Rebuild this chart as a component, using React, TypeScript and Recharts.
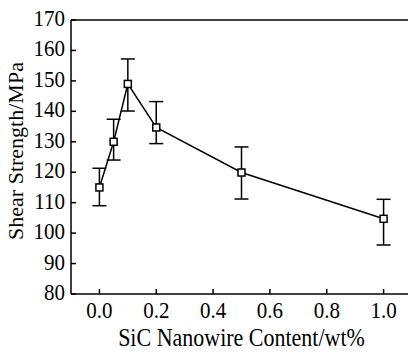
import React from 'react';
import { LineChart, Line, XAxis, YAxis, ErrorBar, ReferenceLine, Label } from 'recharts';

const contents = [0, 0.05, 0.1, 0.2, 0.5, 1.0];
const strengths = [115, 130, 149, 134.7, 119.9, 104.7];
const upperEnds = [121.3, 137.4, 157.2, 143.2, 128.3, 111.1];
const lowerEnds = [109, 124, 140.1, 129.4, 111.2, 96.1];
const xTicks = [0, 0.2, 0.4, 0.6, 0.8, 1.0];
const yTicks = [80, 90, 100, 110, 120, 130, 140, 150, 160, 170];

const data = contents.map((c, i) => ({
  x: c,
  y: strengths[i],
  err: [strengths[i] - lowerEnds[i], upperEnds[i] - strengths[i]],
}));

const FONT = '"Liberation Serif", "Times New Roman", serif';
const tickStyle = { fontFamily: FONT, fontSize: 21, fill: '#000' };
const labelStyle = { fontFamily: FONT, fontSize: 22, fill: '#000' };

// the source picture is a little stretched vertically
const STRETCH = 1.12;

const SquareDot = (props: any) => {
  const { cx, cy } = props;
  if (cx == null || cy == null) return null;
  return <rect x={cx - 3.5} y={cy - 3.5} width={7} height={7} fill="#fff" stroke="#000" strokeWidth={1.5} />;
};

const XTick = (props: any) => {
  const { x, y, payload } = props;
  return (
    <g>
      <line x1={x} x2={x} y1={y} y2={y - 5} stroke="#000" strokeWidth={1.5} />
      <g transform={`translate(${x} ${y + 24}) scale(1 ${STRETCH})`}>
        <text x={0} y={0} textAnchor="middle" style={tickStyle}>
          {Number(payload.value).toFixed(1)}
        </text>
      </g>
    </g>
  );
};

const YTick = (props: any) => {
  const { x, y, payload } = props;
  return (
    <g>
      <line x1={x} x2={x + 5} y1={y} y2={y} stroke="#000" strokeWidth={1.5} />
      <g transform={`translate(${x - 6} ${y + 6}) scale(1 ${STRETCH})`}>
        <text x={0} y={0} textAnchor="end" style={tickStyle}>
          {payload.value}
        </text>
      </g>
    </g>
  );
};

const YLabel = () => {
  const cy = 151;
  const cx = 15;
  return (
    <text
      x={cx}
      y={cy}
      transform={`rotate(-90 ${cx} ${cy})`}
      textAnchor="middle"
      dominantBaseline="central"
      style={labelStyle}
    >
      Shear Strength/MPa
    </text>
  );
};

const XLabel = () => (
  <g transform={`translate(241.5 346) scale(1 ${STRETCH})`}>
    <text x={0} y={0} textAnchor="middle" style={labelStyle}>
      SiC Nanowire Content/wt%
    </text>
  </g>
);

export default function App() {
  return (
    <div style={{ position: 'fixed', left: 0, top: 0, width: 408, height: 352, overflow: 'hidden', background: '#fff' }}>
      <LineChart width={420} height={352} data={data} margin={{ top: 20, right: 8, bottom: 0, left: 0 }}>
        <XAxis
          dataKey="x"
          type="number"
          domain={[-0.1, 1.1]}
          ticks={xTicks}
          tick={XTick}
          tickLine={false}
          tickSize={0}
          tickMargin={0}
          height={58}
          axisLine={{ stroke: '#000', strokeWidth: 1.5 }}
          allowDataOverflow
        >
          <Label content={XLabel} />
        </XAxis>
        <YAxis
          type="number"
          domain={[80, 170]}
          ticks={yTicks}
          tick={YTick}
          tickLine={false}
          tickSize={0}
          tickMargin={0}
          width={71}
          axisLine={{ stroke: '#000', strokeWidth: 1.5 }}
          allowDataOverflow
        >
          <Label content={YLabel} />
        </YAxis>
        <ReferenceLine y={170} stroke="#000" strokeWidth={1.5} />
        <Line
          dataKey="y"
          type="linear"
          stroke="#000"
          strokeWidth={1.5}
          dot={SquareDot}
          isAnimationActive={false}
        >
          <ErrorBar dataKey="err" width={7} stroke="#000" strokeWidth={1.5} direction="y" />
        </Line>
      </LineChart>
    </div>
  );
}
